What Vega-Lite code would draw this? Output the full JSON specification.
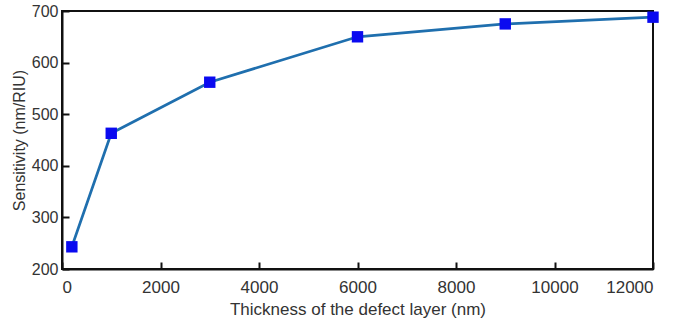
{
  "$schema": "https://vega.github.io/schema/vega-lite/v6.json",
  "width": 591,
  "height": 258,
  "autosize": {"type": "none"},
  "padding": {"left": 62, "top": 11, "right": 25, "bottom": 57},
  "background": "white",
  "config": {
    "view": {"stroke": "#111", "strokeWidth": 2},
    "font": "Liberation Sans",
    "axis": {
      "domain": true,
      "domainColor": "#111",
      "domainWidth": 2,
      "tickColor": "#111",
      "tickWidth": 2,
      "tickSize": -7,
      "grid": false,
      "labelFont": "Liberation Sans",
      "labelColor": "#333333",
      "titleFont": "Liberation Sans",
      "titleFontWeight": "normal",
      "titleColor": "#333333"
    }
  },
  "data": {
    "values": [
      {"thickness": 200, "sensitivity": 243},
      {"thickness": 1000, "sensitivity": 463},
      {"thickness": 3000, "sensitivity": 562},
      {"thickness": 6000, "sensitivity": 650},
      {"thickness": 9000, "sensitivity": 675},
      {"thickness": 12000, "sensitivity": 688}
    ]
  },
  "encoding": {
    "x": {
      "field": "thickness",
      "type": "quantitative",
      "scale": {"domain": [0, 12000], "nice": false},
      "axis": {"values": [0, 2000, 4000, 6000, 8000, 10000, 12000], "format": "d", "title": "Thickness of the defect layer (nm)", "labelFontSize": 17, "titleFontSize": 17, "labelPadding": 17, "titlePadding": 6}
    },
    "y": {
      "field": "sensitivity",
      "type": "quantitative",
      "scale": {"domain": [200, 700], "nice": false},
      "axis": {"values": [200, 300, 400, 500, 600, 700], "title": "Sensitivity (nm/RIU)", "labelFontSize": 16, "titleFontSize": 16, "labelPadding": 11, "titlePadding": 4}
    }
  },
  "layer": [
    {"mark": {"type": "line", "color": "#1f6fae", "strokeWidth": 2.7}},
    {"mark": {"type": "square", "color": "#0a0af0", "filled": true, "opacity": 1, "size": 130, "cornerRadius": 2}}
  ]
}
